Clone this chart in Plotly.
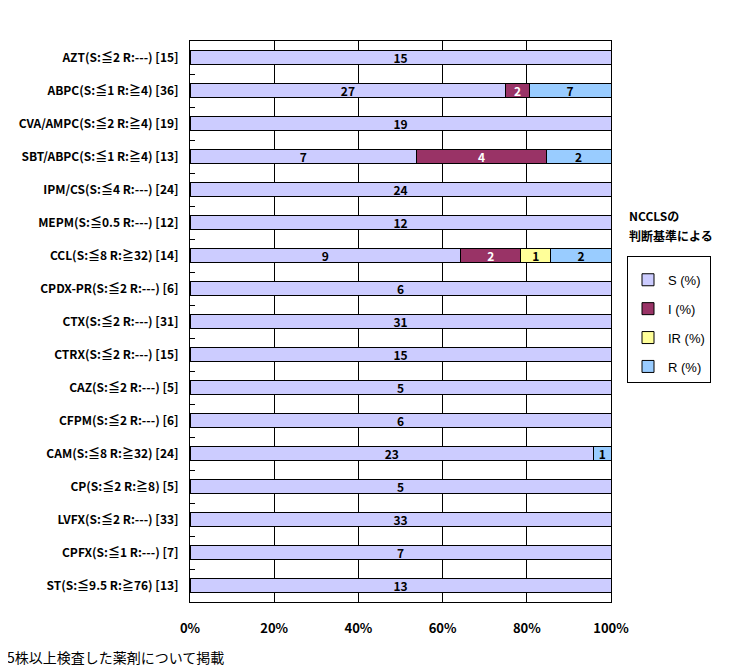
import plotly.graph_objects as go

categories = [
    "AZT(S:≦2 R:---) [15]",
    "ABPC(S:≦1 R:≧4) [36]",
    "CVA/AMPC(S:≦2 R:≧4) [19]",
    "SBT/ABPC(S:≦1 R:≧4) [13]",
    "IPM/CS(S:≦4 R:---) [24]",
    "MEPM(S:≦0.5 R:---) [12]",
    "CCL(S:≦8 R:≧32) [14]",
    "CPDX-PR(S:≦2 R:---) [6]",
    "CTX(S:≦2 R:---) [31]",
    "CTRX(S:≦2 R:---) [15]",
    "CAZ(S:≦2 R:---) [5]",
    "CFPM(S:≦2 R:---) [6]",
    "CAM(S:≦8 R:≧32) [24]",
    "CP(S:≦2 R:≧8) [5]",
    "LVFX(S:≦2 R:---) [33]",
    "CPFX(S:≦1 R:---) [7]",
    "ST(S:≦9.5 R:≧76) [13]",
]
S_vals = [15, 27, 19, 7, 24, 12, 9, 6, 31, 15, 5, 6, 23, 5, 33, 7, 13]
I_vals = [0, 2, 0, 4, 0, 0, 2, 0, 0, 0, 0, 0, 0, 0, 0, 0, 0]
IR_vals = [0, 0, 0, 0, 0, 0, 1, 0, 0, 0, 0, 0, 0, 0, 0, 0, 0]
R_vals = [0, 7, 0, 2, 0, 0, 2, 0, 0, 0, 0, 0, 1, 0, 0, 0, 0]

series_names = ["S (%)", "I (%)", "IR (%)", "R (%)"]
series_vals = [S_vals, I_vals, IR_vals, R_vals]
series_colors = ["#CCCCFF", "#993366", "#FFFF99", "#99CCFF"]
text_colors = ["black", "white", "black", "black"]

x_ticks = [0, 20, 40, 60, 80, 100]
legend_title = ["NCCLSの", "判断基準による"]
footnote = "5株以上検査した薬剤について掲載"

LABEL_FONT = "Liberation Sans Narrow, Arial Narrow, Noto Sans CJK JP, sans-serif"

# figure is placed at an 8px page offset
W, H = 729, 663
L, T = 182, 33
PW, PH = 421, 561

fig = go.Figure()
for i, (name, vals, col, tcol) in enumerate(zip(series_names, series_vals, series_colors, text_colors)):
    fig.add_trace(go.Bar(
        name=name,
        y=categories,
        x=vals,
        orientation="h",
        marker=dict(color=col, line=dict(color="black", width=1)),
        text=[f"<b>{v}</b>" if v else "" for v in vals],
        textposition="inside",
        insidetextanchor="middle",
        textangle=0,
        constraintext="none",
        textfont=dict(family=LABEL_FONT, size=12, color=tcol),
        legendgroup=f"g{i}",
        hoverinfo="skip",
    ))

fig.update_layout(
    barmode="stack",
    barnorm="percent",
    bargap=0.6,
    width=W,
    height=H,
    margin=dict(l=L, r=W - L - PW, t=T, b=H - T - PH),
    plot_bgcolor="white",
    paper_bgcolor="white",
    showlegend=True,
    legend=dict(
        x=(627 - 190) / PW, y=(602 - 256) / PH, xanchor="left", yanchor="top",
        bordercolor="black", borderwidth=1,
        font=dict(family="Liberation Sans, Arial, sans-serif", size=13, color="black"),
        title=dict(text=" ", font=dict(size=6)),
        tracegroupgap=9,
        traceorder="grouped",
        itemwidth=30,
        bgcolor="white",
    ),
    xaxis=dict(
        range=[0, 100],
        tickvals=x_ticks,
        ticktext=[f"<b>{v}%</b>" for v in x_ticks],
        showgrid=True, gridcolor="black", gridwidth=1,
        showline=True, linecolor="black", linewidth=1, mirror=True,
        ticks="", ticklabelstandoff=14,
        tickfont=dict(family=LABEL_FONT, size=13, color="black"),
        zeroline=False,
        fixedrange=True,
    ),
    yaxis=dict(
        autorange="reversed",
        type="category",
        showgrid=False,
        showline=True, linecolor="black", linewidth=1, mirror=True,
        ticks="inside", ticklen=5, tickcolor="black", tickson="boundaries",
        ticklabelstandoff=8,
        tickfont=dict(family=LABEL_FONT, size=12, color="black"),
        fixedrange=True,
    ),
)

fig.update_yaxes(ticktext=[f"<b>{c}</b>" for c in categories], tickvals=categories)

for line, ypix in zip(legend_title, [215, 236]):
    fig.add_annotation(
        text=f"<b>{line}</b>",
        xref="paper", yref="paper", x=(627 - 190) / PW, y=(602 - ypix) / PH,
        xanchor="left", yanchor="middle", align="left", showarrow=False,
        font=dict(family="Noto Sans CJK JP, sans-serif", size=12, color="black"),
    )
fig.add_annotation(
    text=footnote,
    xref="paper", yref="paper", x=-(190 - 5) / PW, y=-(657 - 602) / PH,
    xanchor="left", yanchor="middle", showarrow=False,
    font=dict(family="Noto Sans CJK JP, sans-serif", size=14, color="black"),
)

fig.write_html("out.html")
